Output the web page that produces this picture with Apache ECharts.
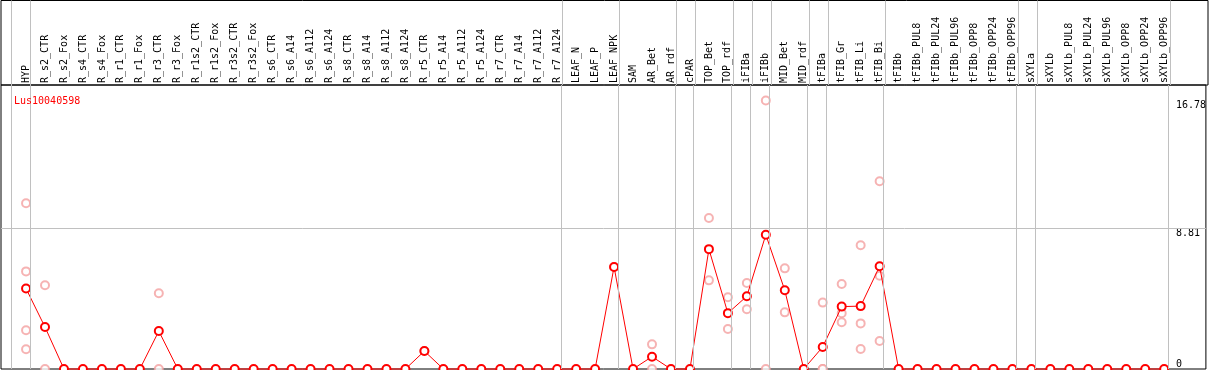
<!DOCTYPE html>
<html>
<head>
<meta charset="utf-8">
<script src="https://cdn.jsdelivr.net/npm/echarts@6/dist/echarts.min.js"></script>
<style>
html,body{margin:0;padding:0;background:#fff;}
#chart{width:1209px;height:370px;}
</style>
</head>
<body>
<div id="chart"></div>
<script>
const geneName = 'Lus10040598';
const categories = ['HYP','R_s2_CTR','R_s2_Fox','R_s4_CTR','R_s4_Fox','R_r1_CTR','R_r1_Fox','R_r3_CTR','R_r3_Fox',
  'R_r1s2_CTR','R_r1s2_Fox','R_r3s2_CTR','R_r3s2_Fox','R_s6_CTR','R_s6_A14','R_s6_A112','R_s6_A124',
  'R_s8_CTR','R_s8_A14','R_s8_A112','R_s8_A124','R_r5_CTR','R_r5_A14','R_r5_A112','R_r5_A124',
  'R_r7_CTR','R_r7_A14','R_r7_A112','R_r7_A124','LEAF_N','LEAF_P','LEAF_NPK','SAM','AR_Bet','AR_rdf',
  'cPAR','TOP_Bet','TOP_rdf','iFIBa','iFIBb','MID_Bet','MID_rdf','tFIBa','tFIB_Gr','tFIB_Li','tFIB_Bi',
  'tFIBb','tFIBb_PUL8','tFIBb_PUL24','tFIBb_PUL96','tFIBb_OPP8','tFIBb_OPP24','tFIBb_OPP96',
  'sXYLa','sXYLb','sXYLb_PUL8','sXYLb_PUL24','sXYLb_PUL96','sXYLb_OPP8','sXYLb_OPP24','sXYLb_OPP96'];
const meanValues = [5.03,2.62,0,0,0,0,0,2.37,0,
  0,0,0,0,0,0,0,0,
  0,0,0,0,1.12,0,0,0,
  0,0,0,0,0,0,6.38,0,0.77,0,
  0,7.49,3.49,4.55,8.39,4.92,0,1.38,3.90,3.93,6.42,
  0,0,0,0,0,0,0,
  0,0,0,0,0,0,0,0];
const replicateValues = [[10.36,6.1,2.42,1.23],[5.23,0],[],[],[],[],[],[4.73,0],[],
  [],[],[],[],[],[],[],[],
  [],[],[],[],[1.12],[],[],[],
  [],[],[],[],[],[],[6.38],[],[1.54,0],[],
  [],[9.44,5.54],[4.48,2.5],[5.38,3.73],[16.78,0],[6.29,3.54],[],[4.15,0,0],[5.31,3.48,2.92],[7.73,2.85,1.25],[11.73,5.83,1.75],
  [],[],[],[],[],[],[],
  [],[],[],[],[],[],[],[]];
const yTickLabels = [0, 8.81, 16.78];
const groupEnds = [-1,0,28,31,34,35,37,38,39,41,42,45,52,53,60];

const FONT = 'DejaVu Sans Mono';
const sepOffset = 0.2;
const xMin = -1.32, xMax = 62.2;
const yMax = 17.75;

const idx = categories.map((c,i)=>i);
const mainData = meanValues.map((v,i)=>[i,v]);
const repData = [];
replicateValues.forEach((arr,i)=>arr.forEach(v=>repData.push([i,v])));
const sepLines = groupEnds.map(g=>({xAxis: g + sepOffset}));
const greyLine = {color:'#c0c0c0', width:1, type:'solid'};

const chart = echarts.init(document.getElementById('chart'), null, {renderer:'canvas'});
chart.setOption({
  animation:false,
  backgroundColor:'#fff',
  title:{text:geneName, left:9, top:91, textStyle:{color:'#ff0000', fontSize:10, fontWeight:'normal', fontFamily:FONT}},
  grid:[
    {left:1, top:0.5, width:1207, height:84.5, show:true, borderColor:'#000', borderWidth:1, backgroundColor:'transparent'},
    {left:1, top:85, width:1207, height:284, show:true, borderColor:'#000', borderWidth:1, backgroundColor:'transparent'}
  ],
  xAxis:[
    {type:'value', gridIndex:0, min:xMin, max:xMax, axisLine:{show:false}, axisTick:{show:false}, splitLine:{show:false}, axisLabel:{show:false}},
    {type:'value', gridIndex:1, position:'top', min:xMin, max:xMax, axisLine:{show:false}, axisTick:{show:false}, splitLine:{show:false},
      axisLabel:{show:true, customValues:idx, rotate:90, margin:2, fontSize:10, fontFamily:FONT, color:'#000',
        formatter:(v)=>categories[Math.round(v)] || ''}}
  ],
  yAxis:[
    {type:'value', gridIndex:0, min:0, max:1, show:false},
    {type:'value', gridIndex:1, position:'right', min:0, max:yMax, axisLine:{show:false}, axisTick:{show:false}, splitLine:{show:false},
      axisLabel:{show:true, inside:true, customValues:yTickLabels.filter(v=>v>0), align:'left', verticalAlign:'top', margin:30,
        fontSize:10, fontFamily:FONT, color:'#000', formatter:(v)=>String(v)}},
    {type:'value', gridIndex:1, position:'right', min:0, max:yMax, axisLine:{show:false}, axisTick:{show:false}, splitLine:{show:false},
      axisLabel:{show:true, inside:true, customValues:yTickLabels.filter(v=>v===0), align:'left', verticalAlign:'bottom', margin:30,
        fontSize:10, fontFamily:FONT, color:'#000', formatter:(v)=>String(v)}}
  ],
  series:[
    {type:'line', xAxisIndex:0, yAxisIndex:0, data:[], silent:true,
      markLine:{silent:true, symbol:['none','none'], label:{show:false}, lineStyle:greyLine, data:sepLines}},
    {type:'scatter', xAxisIndex:1, yAxisIndex:1, data:[], silent:true, z:1,
      markLine:{silent:true, symbol:['none','none'], label:{show:false}, lineStyle:greyLine,
        data:sepLines.concat([{yAxis:yTickLabels[1]}])}},
    {type:'scatter', xAxisIndex:1, yAxisIndex:1, data:repData, symbol:'emptyCircle', symbolSize:8, z:2,
      itemStyle:{color:'#f4a0a0', borderColor:'#f4a0a0', borderWidth:1.2}},
    {type:'line', xAxisIndex:1, yAxisIndex:1, data:mainData, symbol:'emptyCircle', symbolSize:8, z:3, clip:false,
      lineStyle:{color:'#ff0000', width:1}, itemStyle:{color:'#ff0000', borderColor:'#ff0000', borderWidth:1.3}}
  ]
});
</script>
</body>
</html>
